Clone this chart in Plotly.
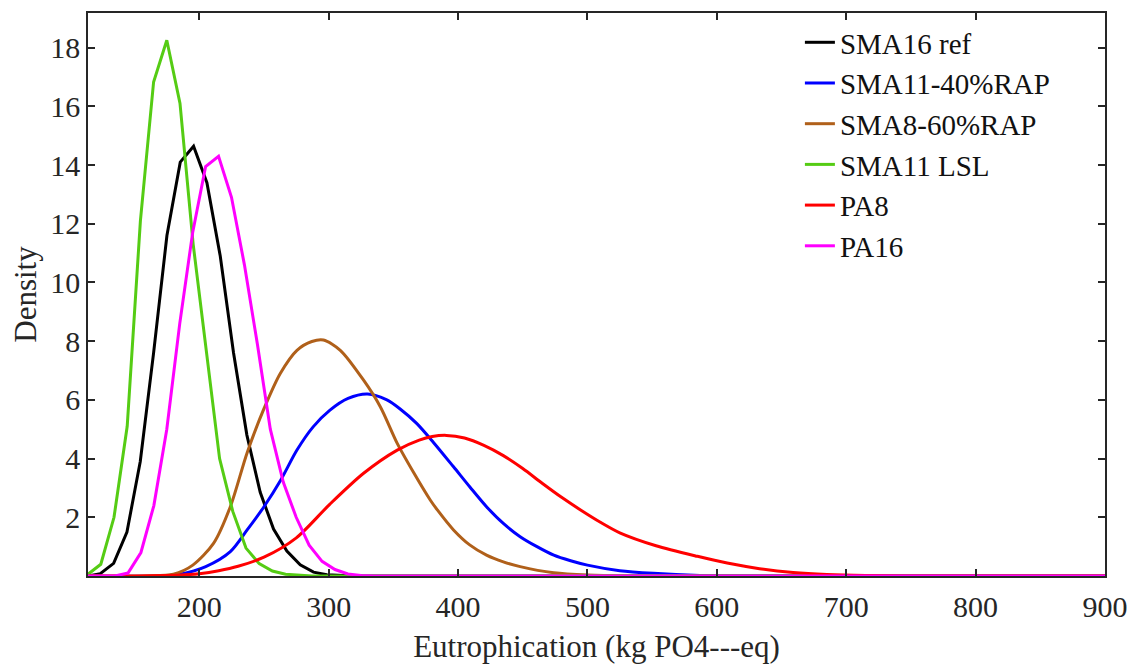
import plotly.graph_objects as go

# ---- data ----
series_names = ["SMA16 ref", "SMA11-40%RAP", "SMA8-60%RAP", "SMA11 LSL", "PA8", "PA16"]
series_colors = ["#000000", "#0000FF", "#B0601A", "#55CC14", "#FF0000", "#FF00FF"]

sma16_x = [114, 123.5, 133.8, 144.1, 154.4, 164.7, 175.0, 185.3, 195.6, 205.9, 216.2, 226.5,
           236.8, 247.1, 257.4, 267.7, 278.0, 288.3, 298.6, 308.9, 320, 900]
sma16_y = [0.0, 0.08, 0.43, 1.5, 3.9, 7.6, 11.6, 14.1, 14.64, 13.4, 10.9, 7.6,
           4.8, 2.85, 1.6, 0.85, 0.38, 0.13, 0.04, 0.01, 0.0, 0.0]

sma11rap_x = [114, 170, 185, 205, 224, 237, 250, 263, 275.5, 288, 301, 315, 330, 345, 355, 368, 381,
              396.5, 409, 422, 435, 448, 461, 474, 487, 500, 525, 551, 587, 620, 900]
sma11rap_y = [0.0, 0.0, 0.06, 0.32, 0.83, 1.57, 2.36, 3.27, 4.29, 5.08, 5.65, 6.05, 6.2, 6.0, 5.7, 5.2, 4.55,
              3.72, 3.04, 2.36, 1.79, 1.34, 1.0, 0.71, 0.52, 0.37, 0.18, 0.09, 0.02, 0.0, 0.0]

sma8rap_x = [114, 160, 180, 195, 211, 224, 237, 250, 262.6, 275.5, 287, 296, 309, 327, 340, 353,
             366, 378.5, 384, 396.5, 409, 422, 435, 448, 474, 500, 530, 900]
sma8rap_y = [0.0, 0.0, 0.06, 0.37, 1.11, 2.36, 4.2, 5.7, 6.9, 7.69, 7.99, 8.04, 7.69, 6.67, 5.76, 4.52,
             3.5, 2.59, 2.25, 1.57, 1.06, 0.71, 0.48, 0.32, 0.11, 0.03, 0.0, 0.0]

sma11lsl_x = [113.7, 123.9, 134.1, 144.3, 154.5, 164.7, 174.9, 185.1, 195.3, 205.5, 215.7, 225.9,
              236.1, 246.3, 256.5, 266.7, 276.9, 287.1, 900]
sma11lsl_y = [0.05, 0.4, 2.0, 5.1, 12.1, 16.83, 18.25, 16.1, 11.3, 7.6, 4.0, 2.2,
              0.95, 0.42, 0.17, 0.06, 0.02, 0.0, 0.0]

pa8_x = [114, 150, 185, 200, 215, 230, 250, 275, 301, 327, 353, 370, 380, 391, 405, 420, 435, 450,
         465, 480, 495, 510, 525, 553, 585, 608, 633, 659, 685, 715, 760, 900]
pa8_y = [0.0, 0.0, 0.03, 0.08, 0.18, 0.33, 0.64, 1.3, 2.45, 3.5, 4.29, 4.63, 4.75, 4.79, 4.70, 4.45, 4.10, 3.66,
         3.16, 2.68, 2.24, 1.83, 1.47, 1.03, 0.67, 0.44, 0.25, 0.12, 0.05, 0.015, 0.0, 0.0]

pa16_x = [114, 134.9, 144.9, 154.9, 164.9, 174.9, 184.9, 194.9, 204.9, 214.9, 224.9, 234.9, 244.9,
          254.9, 264.9, 274.9, 284.9, 294.9, 304.9, 314.9, 324.9, 335, 900]
pa16_y = [0.0, 0.0, 0.1, 0.8, 2.4, 5.0, 8.6, 11.7, 13.95, 14.3, 12.9, 10.6, 7.9,
          5.0, 3.2, 2.0, 1.05, 0.5, 0.22, 0.07, 0.02, 0.0, 0.0]

x_ticks = [200, 300, 400, 500, 600, 700, 800, 900]
y_ticks = [2, 4, 6, 8, 10, 12, 14, 16, 18]
x_range = [114, 900]
y_range = [0, 19.18]

xs = [sma16_x, sma11rap_x, sma8rap_x, sma11lsl_x, pa8_x, pa16_x]
ys = [sma16_y, sma11rap_y, sma8rap_y, sma11lsl_y, pa8_y, pa16_y]
shapes_mode = ["linear", "spline", "spline", "linear", "spline", "linear"]

FONT = "Liberation Serif, Times New Roman, serif"
AX = "#262626"

fig = go.Figure()
for name, color, x, y, shp in zip(series_names, series_colors, xs, ys, shapes_mode):
    fig.add_trace(go.Scatter(
        x=x, y=y, mode="lines", name=name,
        line=dict(color=color, width=3, shape=shp, smoothing=0.8 if shp == "spline" else None),
    ))

# page body has an 8px default margin, so the figure is offset to compensate
fig.update_layout(
    width=1127, height=656,
    margin=dict(l=80, r=30, t=5, b=88),
    paper_bgcolor="white", plot_bgcolor="white",
    font=dict(family=FONT, size=30, color=AX),
    showlegend=True,
    legend=dict(
        x=0.700, y=0.993, xanchor="left", yanchor="top",
        bgcolor="rgba(255,255,255,0)", borderwidth=0,
        font=dict(family=FONT, size=29, color="#111111"),
        tracegroupgap=0, itemwidth=30,
    ),
)
fig.update_xaxes(
    range=x_range, tickvals=x_ticks, ticktext=[str(v) for v in x_ticks],
    showgrid=False, zeroline=False, showline=True, linecolor=AX, linewidth=1.5,
    mirror="allticks", ticks="inside", ticklen=7, tickcolor=AX, tickwidth=1.5,
    tickfont=dict(family=FONT, size=30, color=AX), ticklabelstandoff=3, automargin=False,
    title=dict(text="Eutrophication (kg PO4---eq)", font=dict(family=FONT, size=31, color=AX), standoff=17),
)
fig.update_yaxes(
    range=y_range, tickvals=y_ticks, ticktext=[str(v) for v in y_ticks],
    showgrid=False, zeroline=False, showline=True, linecolor=AX, linewidth=1.5,
    mirror="allticks", ticks="inside", ticklen=7, tickcolor=AX, tickwidth=1.5,
    tickfont=dict(family=FONT, size=30, color=AX), automargin=False,
    title=dict(text="Density", font=dict(family=FONT, size=31, color=AX), standoff=9),
)

fig.write_html("out.html")
